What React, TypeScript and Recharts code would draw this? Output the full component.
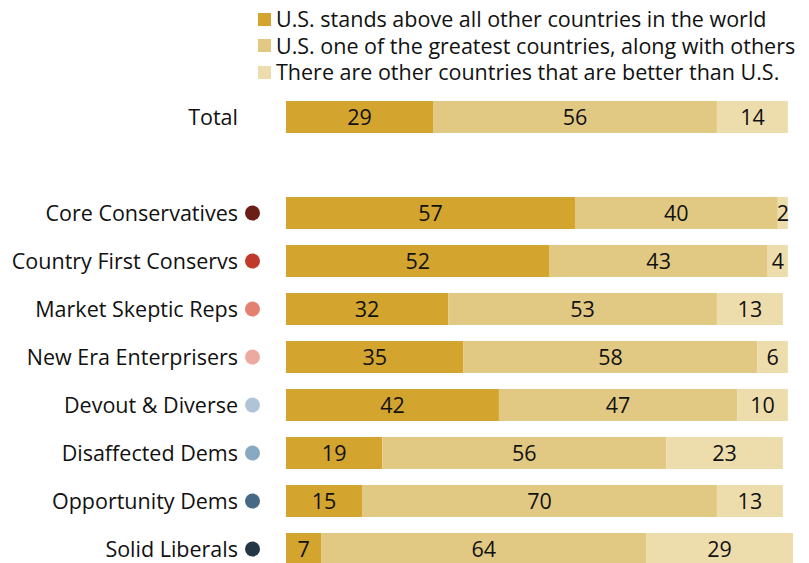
import { BarChart, Bar, XAxis, YAxis, LabelList } from 'recharts';

const categories = [
  'Total',
  '',
  'Core Conservatives',
  'Country First Conservs',
  'Market Skeptic Reps',
  'New Era Enterprisers',
  'Devout & Diverse',
  'Disaffected Dems',
  'Opportunity Dems',
  'Solid Liberals',
];
const standsAbove = [29, null, 57, 52, 32, 35, 42, 19, 15, 7];
const oneOfGreatest = [56, null, 40, 43, 53, 58, 47, 56, 70, 64];
const othersBetter = [14, null, 2, 4, 13, 6, 10, 23, 13, 29];
const dotColors = [null, null, '#6B1E15', '#C0392A', '#E4806F', '#ECA9A0', '#AFC5D7', '#87A9C2', '#466A85', '#233646'];

const seriesNames = [
  'U.S. stands above all other countries in the world',
  'U.S. one of the greatest countries, along with others',
  'There are other countries that are better than U.S.',
];
const seriesColors = ['#D3A52F', '#E2C983', '#EEDDAC'];

const data = categories.map((name, i) => ({
  name,
  above: standsAbove[i],
  greatest: oneOfGreatest[i],
  better: othersBetter[i],
}));

const FONT = '"Open Sans", Arial, sans-serif';
const FS = 21.5;

const CategoryTick = ({ y, payload, index }: any) => {
  const color = dotColors[index];
  return (
    <g>
      <text x={230} y={y} dy={7.5} textAnchor="end" fontSize={FS} fill="#111" fontFamily={FONT}>
        {payload.value}
      </text>
      {color && <circle cx={244.5} cy={y} r={7.5} fill={color} />}
    </g>
  );
};

const LegendBox = () => (
  <div style={{ position: 'absolute', left: 250, top: 0, fontFamily: FONT, fontSize: FS, color: '#111', zIndex: 1 }}>
    {seriesNames.map((n, i) => (
      <div key={n} style={{ display: 'flex', alignItems: 'center', height: 22, lineHeight: '22px', marginBottom: 4.5, whiteSpace: 'nowrap' }}>
        <span style={{ width: 13, height: 13, background: seriesColors[i], marginRight: 5, display: 'inline-block' }} />
        <span>{n}</span>
      </div>
    ))}
  </div>
);

const fmt = (v: any) => (v == null ? '' : v);

export default function App() {
  return (
    <div style={{ width: 801, height: 555, position: 'relative' }}>
      <LegendBox />
      <div style={{ width: 801, height: 555, overflow: 'hidden' }}>
        <BarChart
          width={801}
          height={565}
          data={data}
          layout="vertical"
          margin={{ top: 85, right: 16, bottom: 0, left: 0 }}
          barSize={32}
        >
          <XAxis type="number" domain={[0, 100]} hide />
          <YAxis
            type="category"
            dataKey="name"
            width={278}
            axisLine={false}
            tickLine={false}
            tick={<CategoryTick />}
            interval={0}
          />
          <Bar dataKey="above" stackId="a" fill={seriesColors[0]} isAnimationActive={false}>
            <LabelList dataKey="above" position="center" formatter={fmt} fill="#111" fontSize={FS} fontFamily={FONT} />
          </Bar>
          <Bar dataKey="greatest" stackId="a" fill={seriesColors[1]} isAnimationActive={false}>
            <LabelList dataKey="greatest" position="center" formatter={fmt} fill="#111" fontSize={FS} fontFamily={FONT} />
          </Bar>
          <Bar dataKey="better" stackId="a" fill={seriesColors[2]} isAnimationActive={false}>
            <LabelList dataKey="better" position="center" formatter={fmt} fill="#111" fontSize={FS} fontFamily={FONT} />
          </Bar>
        </BarChart>
      </div>
    </div>
  );
}
